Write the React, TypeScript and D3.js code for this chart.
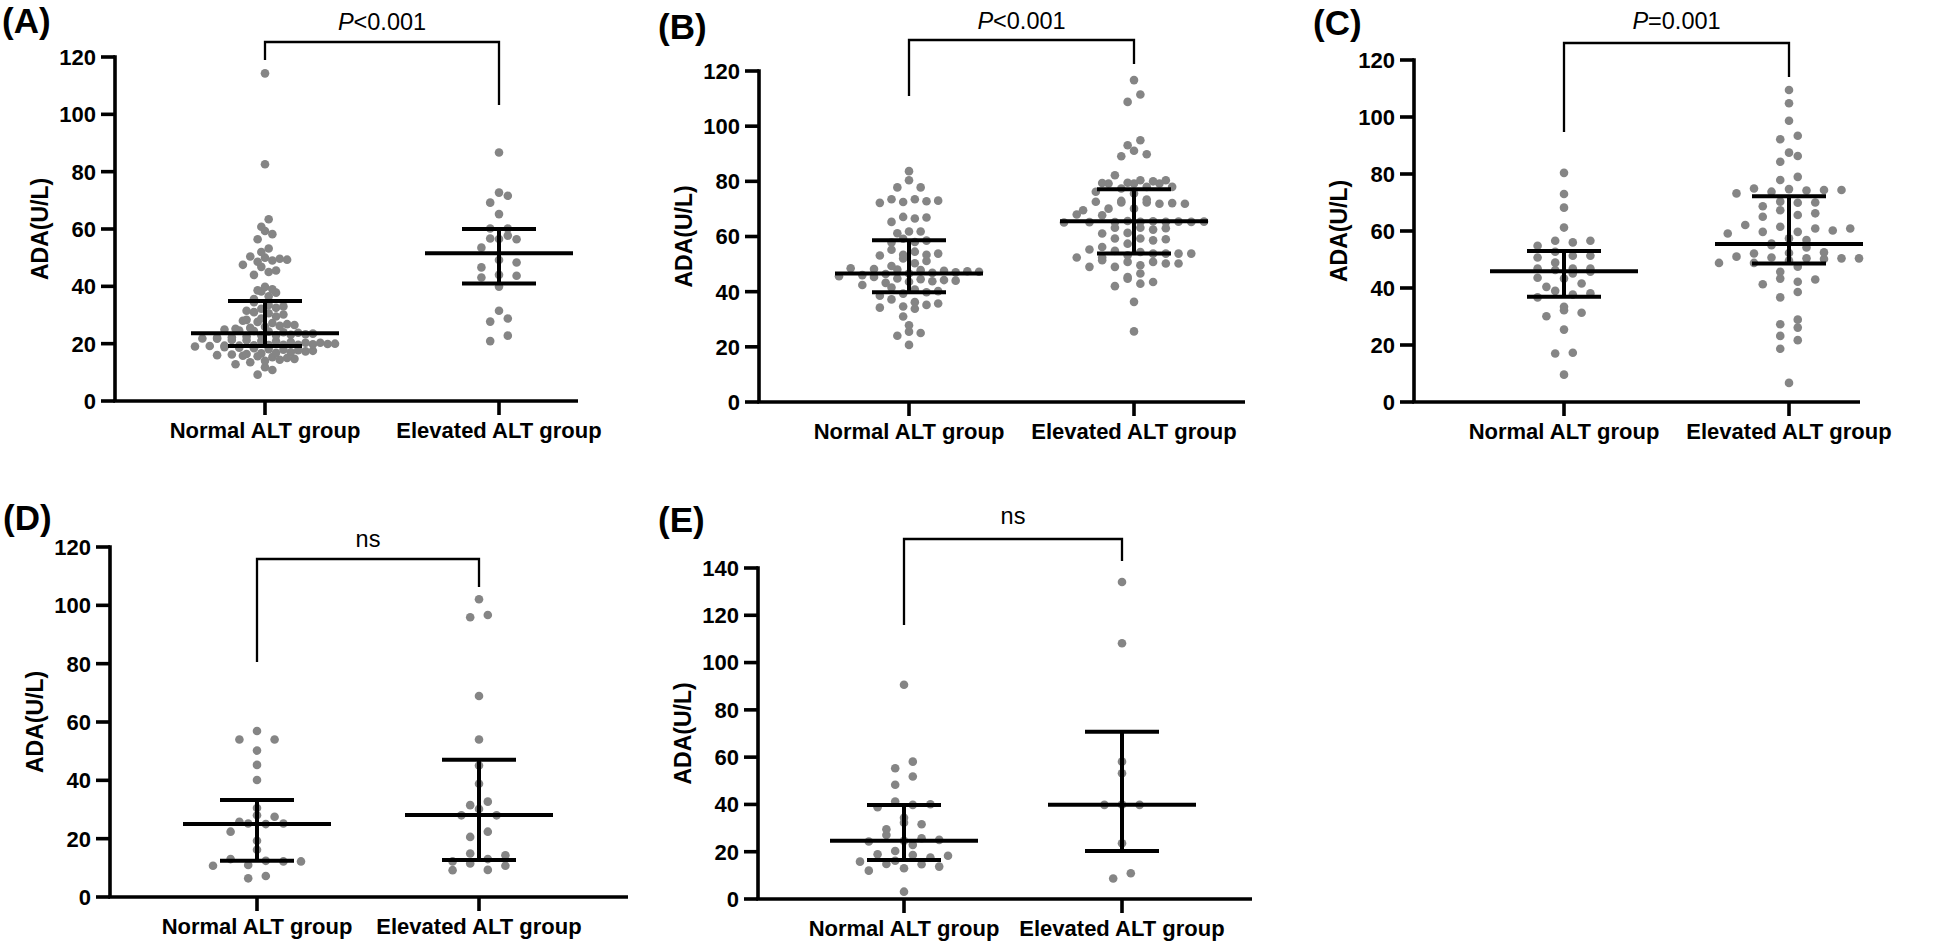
import React from "react";
import * as d3 from "d3";

// ---------- data ----------
const groups = ["Normal ALT group", "Elevated ALT group"];
const panelLetters = ["(A)", "(B)", "(C)", "(D)", "(E)"];
const pLabels = ["<0.001", "<0.001", "=0.001", "ns", "ns"];
const yMaxes = [120, 120, 120, 120, 140];
const yLabel = "ADA(U/L)";

const aNormal = [114.3, 82.6, 63.4, 60.8, 59.3, 58.2, 56.4, 53.2, 52.0, 50.4, 50.0, 49.6, 49.3, 49.0, 48.6, 47.5, 46.8, 45.5, 45.0, 44.0, 39.8, 39.0, 38.6, 38.2, 37.8, 36.5, 35.6,
  34.5, 33.5, 33.0, 32.5, 32.2, 31.5, 31.0, 30.6, 30.2, 29.5, 28.8, 28.3, 28.0, 27.6, 27.2, 26.8, 26.5, 26.2, 25.9, 25.5, 25.2, 24.9, 24.6, 24.4, 24.2, 24.0, 23.8,
  23.5, 23.3, 23.1, 22.9, 22.9, 22.5, 22.2, 22.1, 21.8, 21.7, 21.3, 21.2, 20.9, 20.8, 20.6, 20.3, 20.3, 20.0, 19.9, 19.8, 19.6, 19.6, 19.5, 19.4, 19.3, 19.3, 19.2,
  19.0, 18.8, 18.6, 18.4, 18.1, 17.9, 17.7, 17.5, 17.3, 17.0, 16.8, 16.6, 16.4, 16.2, 16.0, 15.8, 15.6, 15.3, 15.0, 14.7, 14.4, 14.0, 13.5, 12.8, 11.8, 10.8, 9.2];
const aElevated = [86.7, 71.6, 72.7, 69.2, 65.2, 60.2, 60.2, 56.5, 56.4, 56.7, 57.7, 53.5, 48.3, 49.2, 46.6, 43.1, 44.0, 43.7, 39.9, 31.5, 27.7, 28.8, 22.8, 20.9];

const bNormal = [83.7, 80.4, 77.8, 77.8, 73.0, 72.8, 72.2, 72.5, 73.5, 73.5, 66.9, 65.3, 66.5, 67.1, 61.8, 61.2, 61.8, 59.2, 58.5, 58.0, 57.8, 55.2, 54.5, 53.8, 53.4, 53.4, 53.1, 52.0, 51.1, 50.3,
  49.3, 48.5, 48.2, 48.0, 47.8, 47.6, 47.4, 47.2, 47.0, 46.8, 46.6, 46.4, 46.0, 45.6, 45.3, 44.8, 44.5, 44.2, 44.0, 43.8, 43.6, 43.2, 42.4, 41.5, 40.8, 40.2, 39.8, 39.3, 38.5, 37.2,
  36.2, 35.7, 35.2, 34.6, 34.2, 33.8, 31.0, 27.8, 25.5, 25.0, 24.0, 20.7];
const bElevated = [116.7, 111.5, 108.8, 94.9, 93.1, 91.1, 89.8, 89.1,
  79.2, 79.4, 80.4, 79.2, 79.2, 82.2, 80.0, 80.4, 79.5,
  76.2, 75.6, 78.0, 78.0, 77.4,
  72.9, 72.3, 71.9, 72.6, 73.4, 71.9, 72.1, 72.3,
  69.5, 70.1, 70.1, 67.7, 68.0,
  65.3, 65.5, 65.2, 65.4, 65.3, 65.6, 65.1, 65.3, 65.4, 65.2,
  61.3, 63.2, 62.5, 61.1, 63.0, 63.2,
  58.6, 59.3, 59.0, 57.4, 59.3, 56.2,
  53.2, 54.4, 55.3, 53.8, 53.8, 53.8, 53.8, 54.8, 52.4, 52.4,
  50.8, 51.4, 49.6, 49.0, 50.2, 49.0, 50.2, 50.8,
  46.6, 45.3, 44.7, 42.9, 43.5, 42.0, 36.3, 25.6];

const cNormal = [80.4, 73.0, 68.2, 61.2, 54.8, 56.0, 56.6, 56.6, 52.7, 50.7, 51.3, 51.3, 48.9, 46.8, 46.8, 45.1, 46.8, 45.7, 46.3,
  43.6, 41.6, 43.3, 40.4, 37.7, 38.1, 39.0, 36.7, 32.2, 33.4, 30.1, 31.3, 25.4, 17.3, 17.0, 9.6];
const cElevated = [109.5, 104.8, 98.7, 93.4, 92.2, 87.5, 86.3, 84.3, 79.0, 77.9,
  74.4, 73.2, 74.9, 74.4, 74.7, 73.8, 74.2, 69.9, 70.3, 68.7, 70.0, 67.3, 65.6, 65.0, 66.2,
  62.1, 60.9, 60.9, 59.7, 59.1, 59.7, 61.5, 60.2, 57.4, 55.6, 54.2, 56.8, 55.0,
  50.4, 50.4, 50.4, 48.8, 52.3, 52.1, 52.5, 50.7, 50.2, 49.6, 51.0, 48.8, 45.7, 47.5,
  43.3, 42.2, 43.0, 41.3, 38.6, 36.7, 27.3, 28.9, 26.1, 23.2, 21.7, 18.7, 6.7];

const dNormal = [56.9, 54.0, 54.0, 50.2, 45.3, 40.1, 30.5, 28.0, 27.5, 25.0, 25.8, 25.2, 25.2, 22.4, 19.3, 16.2, 12.2, 12.4, 12.2, 13.0, 10.7, 11.0, 6.4, 7.2];
const dElevated = [102.1, 95.9, 96.7, 68.9, 54.0, 45.1, 38.8, 32.7, 31.5, 30.2, 28.0, 28.0, 22.4, 20.6, 14.9, 14.3, 12.2, 11.5, 13.0, 10.7, 9.3, 9.2];

const eNormal = [90.6, 58.1, 55.3, 51.8, 48.3, 41.2, 40.1, 39.8, 38.8, 34.4, 32.3, 31.6, 29.5, 27.1, 24.6, 25.0, 24.3, 25.7, 22.9, 20.3, 18.9,
  17.5, 18.6, 18.3, 16.2, 14.7, 13.7, 15.8, 14.8, 13.0, 12.0, 3.1];
const eElevated = [134.1, 108.2, 58.1, 53.2, 39.8, 39.9, 39.8, 23.6, 10.9, 8.7];

const panelData = [[aNormal, aElevated], [bNormal, bElevated], [cNormal, cElevated], [dNormal, dElevated], [eNormal, eElevated]];
const medians = [[23.6, 51.5], [46.6, 65.5], [45.9, 55.4], [25.0, 28.1], [24.6, 39.9]];
const q1s = [[19.2, 41.0], [39.8, 53.8], [36.9, 48.6], [12.4, 12.7], [16.5, 20.3]];
const q3s = [[34.9, 60.0], [58.6, 77.1], [53.0, 72.2], [33.3, 47.1], [39.8, 70.7]];

// ---------- layout ----------
const layouts = [
  { left: 115, right: 578, top: 57, bottom: 401, xN: 265, xE: 499, bracketY: 42, dropL: 60, dropR: 105, letterX: 2, letterY: 33, pY: 30 },
  { left: 759, right: 1245, top: 71, bottom: 402, xN: 909, xE: 1134, bracketY: 40, dropL: 96, dropR: 64, letterX: 658, letterY: 39, pY: 29 },
  { left: 1414, right: 1860, top: 60, bottom: 402, xN: 1564, xE: 1789, bracketY: 43, dropL: 132, dropR: 77, letterX: 1313, letterY: 35, pY: 29 },
  { left: 110, right: 628, top: 547, bottom: 897, xN: 257, xE: 479, bracketY: 559, dropL: 662, dropR: 587, letterX: 3, letterY: 530, pY: 547 },
  { left: 758, right: 1252, top: 568, bottom: 899, xN: 904, xE: 1122, bracketY: 539, dropL: 625, dropR: 561, letterX: 658, letterY: 532, pY: 524 },
];

const FONT = "'Liberation Sans', Arial, Helvetica, sans-serif";
const DOT = "#858585";
const R = 4.3;

function swarm(values: number[], y: (v: number) => number, cx: number, r: number) {
  const pts = values.map((v) => ({ v, py: y(v) })).sort((a, b) => b.py - a.py);
  const binH = 2 * r;
  const bins: { v: number; py: number }[][] = [];
  let cur: { v: number; py: number }[] = [];
  let start = 0;
  pts.forEach((p) => {
    if (cur.length === 0) { cur = [p]; start = p.py; }
    else if (start - p.py < binH) cur.push(p);
    else { bins.push(cur); cur = [p]; start = p.py; }
  });
  if (cur.length) bins.push(cur);
  const maxN = d3.max(bins, (b) => b.length) || 1;
  const s = maxN > 1 ? Math.min(17.6, 140 / (maxN - 1)) : 17.6;
  const out: { x: number; y: number }[] = [];
  bins.forEach((b) => {
    const n = b.length;
    const order: number[] = [];
    for (let i = 0; i < n; i += 2) order.push(i);
    for (let i = n % 2 === 0 ? n - 1 : n - 2; i >= 1; i -= 2) order.push(i);
    b.forEach((p, k) => out.push({ x: cx + (order[k] - (n - 1) / 2) * s, y: p.py }));
  });
  return out;
}

function Panel({ idx }: { idx: number }) {
  const L = layouts[idx];
  const y = d3.scaleLinear().domain([0, yMaxes[idx]]).range([L.bottom, L.top]);
  const x = d3.scalePoint<string>().domain(groups).range([L.xN, L.xE]);
  const ticks = d3.range(0, yMaxes[idx] + 1, 20);
  const p = pLabels[idx];
  const isP = p !== "ns";
  return (
    <g>
      {groups.map((g, gi) =>
        swarm(panelData[idx][gi], y, x(g) as number, R).map((d, k) => (
          <circle key={g + k} cx={d.x} cy={d.y} r={R} fill={DOT} />
        ))
      )}
      {groups.map((g, gi) => {
        const cx = x(g) as number;
        return (
          <g key={"eb" + g} stroke="#000" strokeWidth={4}>
            <line x1={cx - 74} x2={cx + 74} y1={y(medians[idx][gi])} y2={y(medians[idx][gi])} />
            <line x1={cx - 37} x2={cx + 37} y1={y(q1s[idx][gi])} y2={y(q1s[idx][gi])} />
            <line x1={cx - 37} x2={cx + 37} y1={y(q3s[idx][gi])} y2={y(q3s[idx][gi])} />
            <line x1={cx} x2={cx} y1={y(q1s[idx][gi])} y2={y(q3s[idx][gi])} />
          </g>
        );
      })}
      <g stroke="#000" strokeWidth={3.6} fill="none">
        <line x1={L.left} x2={L.left} y1={L.top - 1.8} y2={L.bottom} />
        <line x1={L.left - 1.8} x2={L.right} y1={L.bottom} y2={L.bottom} />
        {ticks.map((t) => (
          <line key={"t" + t} x1={L.left - 14} x2={L.left} y1={y(t)} y2={y(t)} />
        ))}
        {groups.map((g) => (
          <line key={"xt" + g} x1={x(g)} x2={x(g)} y1={L.bottom} y2={L.bottom + 14} />
        ))}
      </g>
      {ticks.map((t) => (
        <text key={"tl" + t} x={L.left - 19} y={y(t)} dy="0.36em" textAnchor="end" fontFamily={FONT} fontWeight="bold" fontSize={22}>
          {t}
        </text>
      ))}
      {groups.map((g) => (
        <text key={"xl" + g} x={x(g)} y={L.bottom + 37} textAnchor="middle" fontFamily={FONT} fontWeight="bold" fontSize={22}>
          {g}
        </text>
      ))}
      <text
        transform={`translate(${L.left - 67},${(L.top + L.bottom) / 2}) rotate(-90)`}
        textAnchor="middle" fontFamily={FONT} fontWeight="bold" fontSize={23}
      >
        {yLabel}
      </text>
      <path
        d={`M${L.xN},${L.dropL} V${L.bracketY} H${L.xE} V${L.dropR}`}
        fill="none" stroke="#000" strokeWidth={2.3}
      />
      <text x={(L.xN + L.xE) / 2} y={L.pY} textAnchor="middle" fontFamily={FONT} fontSize={23.5}>
        {isP ? (
          <>
            <tspan fontStyle="italic">P</tspan>
            <tspan>{p}</tspan>
          </>
        ) : (
          p
        )}
      </text>
      <text x={L.letterX} y={L.letterY} fontFamily={FONT} fontWeight="bold" fontSize={35}>
        {panelLetters[idx]}
      </text>
    </g>
  );
}

export default function App() {
  return (
    <svg width={1944} height={942} viewBox="0 0 1944 942" style={{ position: "absolute", left: 0, top: 0, background: "#fff" }}>
      <rect x={0} y={0} width={1944} height={942} fill="#fff" />
      {panelLetters.map((_, i) => (
        <Panel key={i} idx={i} />
      ))}
    </svg>
  );
}
